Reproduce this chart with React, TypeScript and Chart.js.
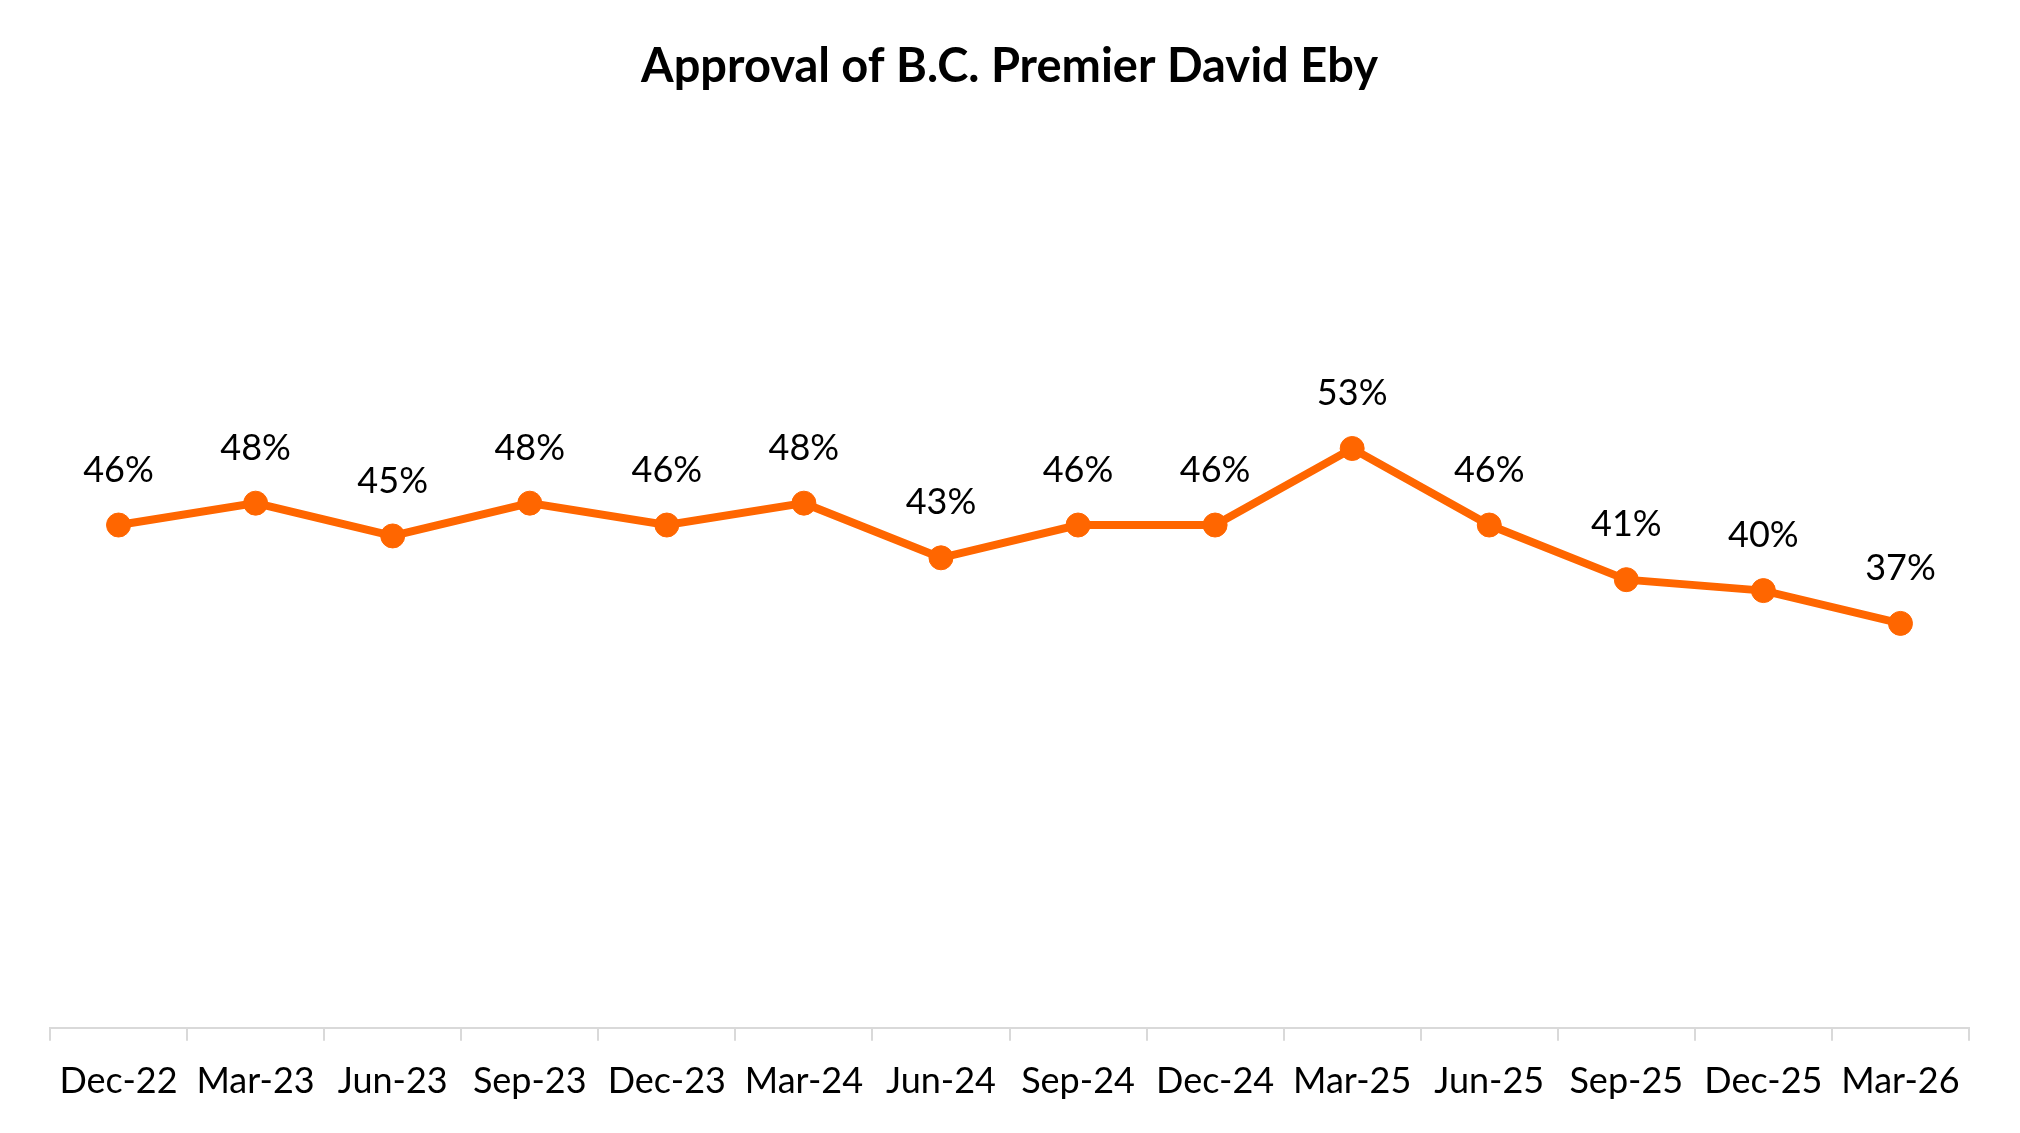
import React, { useEffect, useRef } from "react";
import { Chart, registerables } from "chart.js";

Chart.register(...registerables);

const TITLE = "Approval of B.C. Premier David Eby";
const categories = [
  "Dec-22", "Mar-23", "Jun-23", "Sep-23", "Dec-23", "Mar-24", "Jun-24",
  "Sep-24", "Dec-24", "Mar-25", "Jun-25", "Sep-25", "Dec-25", "Mar-26",
];
const approval = [0.46, 0.48, 0.45, 0.48, 0.46, 0.48, 0.43, 0.46, 0.46, 0.53, 0.46, 0.41, 0.40, 0.37];

const LINE_COLOR = "#FF6600";
const FONT = "Lato, 'Open Sans', sans-serif";

const dataLabelPlugin = {
  id: "dataLabels",
  afterDatasetsDraw(chart: any) {
    const { ctx } = chart;
    const meta = chart.getDatasetMeta(0);
    const values = chart.data.datasets[0].data as number[];
    ctx.save();
    ctx.font = `36px ${FONT}`;
    ctx.fillStyle = "#000000";
    ctx.textAlign = "center";
    ctx.textBaseline = "middle";
    meta.data.forEach((pt: any, i: number) => {
      const v = values[i];
      ctx.fillText(`${Math.round(v * 100)}%`, pt.x, pt.y - 55);
    });
    ctx.restore();
  },
};

export default function App() {
  const canvasRef = useRef<HTMLCanvasElement | null>(null);

  useEffect(() => {
    if (!canvasRef.current) return;
    const chart = new Chart(canvasRef.current, {
      type: "line",
      data: {
        labels: categories,
        datasets: [
          {
            label: "Approval",
            data: approval,
            borderColor: LINE_COLOR,
            backgroundColor: LINE_COLOR,
            borderWidth: 8,
            pointRadius: 12,
            pointBorderWidth: 1,
            pointBackgroundColor: LINE_COLOR,
            pointBorderColor: LINE_COLOR,
            tension: 0,
          },
        ],
      },
      options: {
        animation: false,
        responsive: true,
        maintainAspectRatio: false,
        devicePixelRatio: 1,
        layout: { padding: { left: 50, right: 51, top: 0, bottom: 11 } },
        plugins: {
          legend: { display: false },
          tooltip: { enabled: false },
          title: {
            display: true,
            text: TITLE,
            color: "#000000",
            font: { family: FONT, size: 47, weight: "bold" },
            padding: { top: 39, bottom: 58 },
          },
        },
        scales: {
          x: {
            type: "category",
            offset: true,
            grid: {
              offset: true,
              display: true,
              drawOnChartArea: false,
              drawTicks: true,
              tickLength: 13,
              color: "#D9D9D9",
              lineWidth: 2,
            },
            border: { display: true, color: "#D9D9D9", width: 2 },
            ticks: {
              color: "#000000",
              font: { family: FONT, size: 36 },
              padding: 19,
              maxRotation: 0,
              autoSkip: false,
            },
          },
          y: {
            display: false,
            min: 0,
            max: 0.8,
          },
        },
      },
      plugins: [dataLabelPlugin],
    });
    return () => chart.destroy();
  }, []);

  return (
    <div
      style={{
        position: "fixed",
        left: 0,
        top: 0,
        width: "2020px",
        height: "1133px",
        background: "#ffffff",
      }}
    >
      <canvas ref={canvasRef} />
    </div>
  );
}
